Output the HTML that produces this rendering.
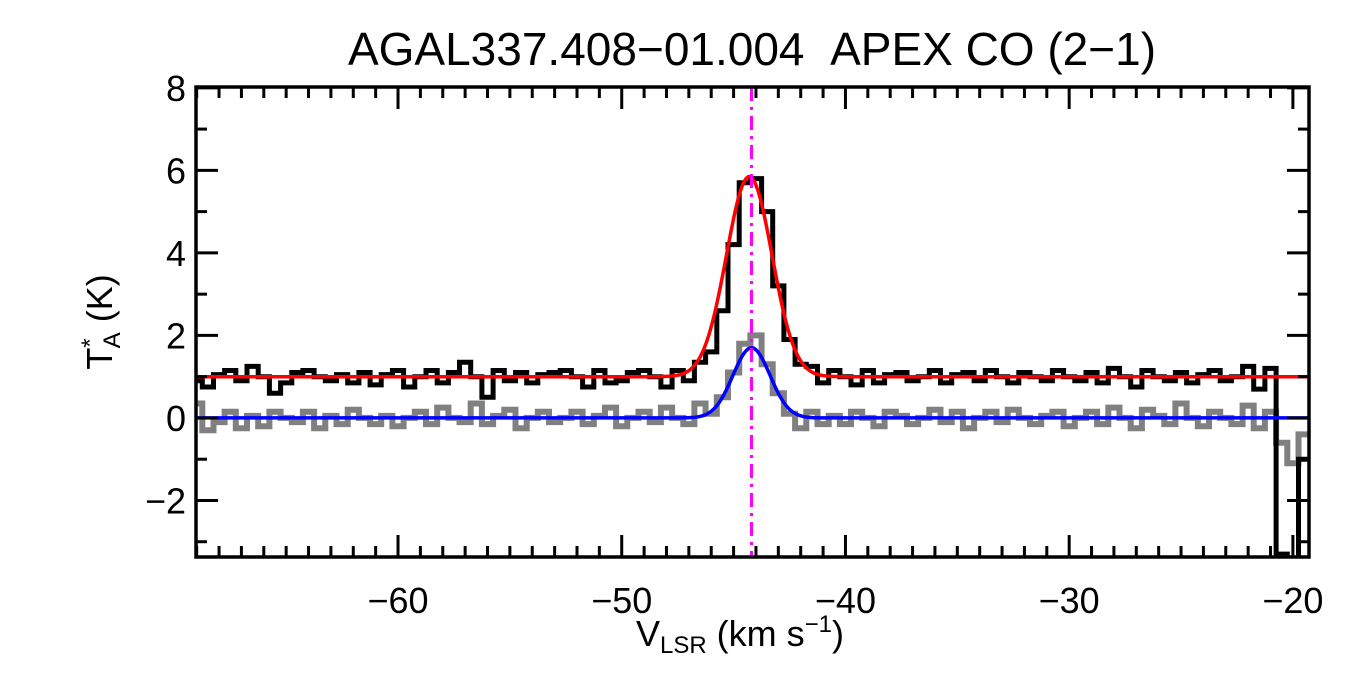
<!DOCTYPE html>
<html><head><meta charset="utf-8"><style>
body{margin:0;background:#fff;}
svg{display:block;font-family:"Liberation Sans",sans-serif;}
</style></head><body>
<svg id="chart" width="1350" height="675">
<text x="752" y="65" font-size="46" text-anchor="middle">AGAL337.408−01.004&#160;&#160;APEX CO (2−1)</text>
<g id="plot"></g>
<text x="740" y="646" font-size="36" text-anchor="middle">V<tspan font-size="24" dy="7">LSR</tspan><tspan dy="-7"> (km s</tspan><tspan font-size="24" dy="-14">−1</tspan><tspan dy="14">)</tspan></text>
<text transform="translate(112,322) rotate(-90)" font-size="36" text-anchor="middle">T<tspan font-size="24" dy="-14">*</tspan><tspan font-size="24" dx="-10" dy="22">A</tspan><tspan dy="-8"> (K)</tspan></text>
</svg>
<script>
const xStart = -69.0, chanW = 0.5;
const blackVals = [0.9,0.75,1.05,1.15,0.9,1.25,1.0,0.6,0.85,1.1,1.15,1.0,0.9,1.05,0.85,1.1,0.8,1.05,1.15,0.75,
1.0,1.15,0.85,1.1,1.35,1.0,0.5,1.15,0.9,1.1,0.85,1.05,1.1,1.15,1.0,0.75,1.15,0.85,0.9,1.1,
1.15,1.0,0.75,1.15,0.9,1.35,1.6,2.6,4.2,5.7,5.8,5.0,3.2,1.9,1.3,1.25,0.85,1.15,1.0,0.8,
1.15,0.85,1.05,1.1,0.9,1.0,1.15,0.85,1.05,1.1,0.9,1.15,1.0,0.85,1.1,1.0,0.9,1.15,1.0,0.9,
1.1,0.85,1.2,1.0,0.75,1.15,1.0,0.9,1.1,0.85,1.05,1.15,0.9,1.0,1.25,0.7,1.2,-3.3,-3.4,-1.0];
const grayVals = [0.35,-0.3,-0.1,0.15,-0.25,0.05,-0.2,0.15,0.0,-0.1,0.15,-0.25,0.05,-0.15,0.2,0.0,-0.15,0.05,-0.2,0.0,
0.15,-0.15,0.25,0.0,-0.1,0.35,-0.15,0.05,0.2,-0.25,0.0,0.15,-0.1,0.0,0.15,-0.15,0.05,0.25,-0.2,0.0,
0.15,-0.1,0.25,0.0,-0.15,0.35,0.1,0.5,1.1,1.8,2.0,1.3,0.6,0.1,-0.25,0.15,-0.15,0.05,-0.15,0.15,
0.0,-0.2,0.15,0.05,-0.15,0.0,0.2,-0.1,0.15,-0.25,0.0,0.15,-0.1,0.2,0.0,-0.15,0.05,0.15,-0.2,0.0,
0.15,-0.15,0.25,0.0,-0.25,0.2,0.05,-0.15,0.35,0.0,-0.2,0.15,0.0,-0.15,0.3,-0.25,0.15,-0.6,-1.1,-0.4];
const redFit = [1.0, 4.85, -44.3, 1.02];   // base, amp, center, sigma
const blueFit = [0.0, 1.7, -44.2, 0.83];
const vLine = [-44.2];
const xTicks = [-60,-50,-40,-30,-20];
const xTickLabels = ["−60","−50","−40","−30","−20"];
const yTicks = [-2,0,2,4,6,8];
const yTickLabels = ["−2","0","2","4","6","8"];

const L=196,R=1309,T=87,B=557, xMin=-69.03,xMax=-19.28,yMin=-3.37,yMax=8.02;
const X=v=>L+(v-xMin)/(xMax-xMin)*(R-L);
const Y=v=>B-(v-yMin)/(yMax-yMin)*(B-T);
const NS="http://www.w3.org/2000/svg";
const g=document.getElementById('plot');
function mk(t,a){const e=document.createElementNS(NS,t);for(const k in a)e.setAttribute(k,a[k]);g.appendChild(e);return e;}
const defs=mk('defs',{});
const cp=document.createElementNS(NS,'clipPath');cp.setAttribute('id','cp');
const cr=document.createElementNS(NS,'rect');cr.setAttribute('x',L);cr.setAttribute('y',T);cr.setAttribute('width',R-L);cr.setAttribute('height',B-T);
cp.appendChild(cr);defs.appendChild(cp);
function stepPath(vals){let d='';vals.forEach((v,i)=>{const x0=X(xStart+i*chanW-chanW/2),x1=X(xStart+i*chanW+chanW/2);d+=(i?'L':'M')+x0.toFixed(1)+','+Y(v).toFixed(1)+'L'+x1.toFixed(1)+','+Y(v).toFixed(1);});return d;}
function gaussPath(p){let d='';for(let px=L;px<=R;px+=2){const v=xMin+(px-L)/(R-L)*(xMax-xMin);const y=p[0]+p[1]*Math.exp(-0.5*((v-p[2])/p[3])**2);d+=(px===L?'M':'L')+px+','+Y(y).toFixed(1);}return d;}
let e;
e=mk('path',{d:stepPath(grayVals),fill:'none',stroke:'#808080','stroke-width':6,'clip-path':'url(#cp)'});


e=mk('path',{d:stepPath(blackVals),fill:'none',stroke:'#000','stroke-width':5,'clip-path':'url(#cp)'});


e=mk('path',{d:gaussPath(redFit),fill:'none',stroke:'#ff0000','stroke-width':3.5});


e=mk('path',{d:gaussPath(blueFit),fill:'none',stroke:'#0000ff','stroke-width':3.5});


e=mk('line',{x1:X(vLine[0]),x2:X(vLine[0]),y1:T,y2:B,stroke:'#ff00ff','stroke-width':3,'stroke-dasharray':'14,6,3,6'});


e=mk('rect',{x:L,y:T,width:R-L,height:B-T,fill:'none',stroke:'#000','stroke-width':3.5});


for(let v=-69;v<=-20;v++){const maj=v%10===0,len=maj?22:11,x=X(v);
 e=mk('line',{x1:x,x2:x,y1:B,y2:B-len,stroke:'#000','stroke-width':3});
 
 
 e=mk('line',{x1:x,x2:x,y1:T,y2:T+len,stroke:'#000','stroke-width':3});
 
 }
for(let v=-3;v<=8;v++){const maj=v%2===0,len=maj?22:11,y=Y(v);
 e=mk('line',{x1:L,x2:L+len,y1:y,y2:y,stroke:'#000','stroke-width':3});
 
 
 e=mk('line',{x1:R,x2:R-len,y1:y,y2:y,stroke:'#000','stroke-width':3});
 
 }
xTicks.forEach((v,i)=>{e=mk('text',{x:X(v),y:613,'font-size':36,'text-anchor':'middle'});e.textContent=xTickLabels[i];
 
 });
yTicks.forEach((v,i)=>{e=mk('text',{x:186,y:Y(v)+13,'font-size':36,'text-anchor':'end'});e.textContent=yTickLabels[i];
 
 });
</script>
</body></html>
